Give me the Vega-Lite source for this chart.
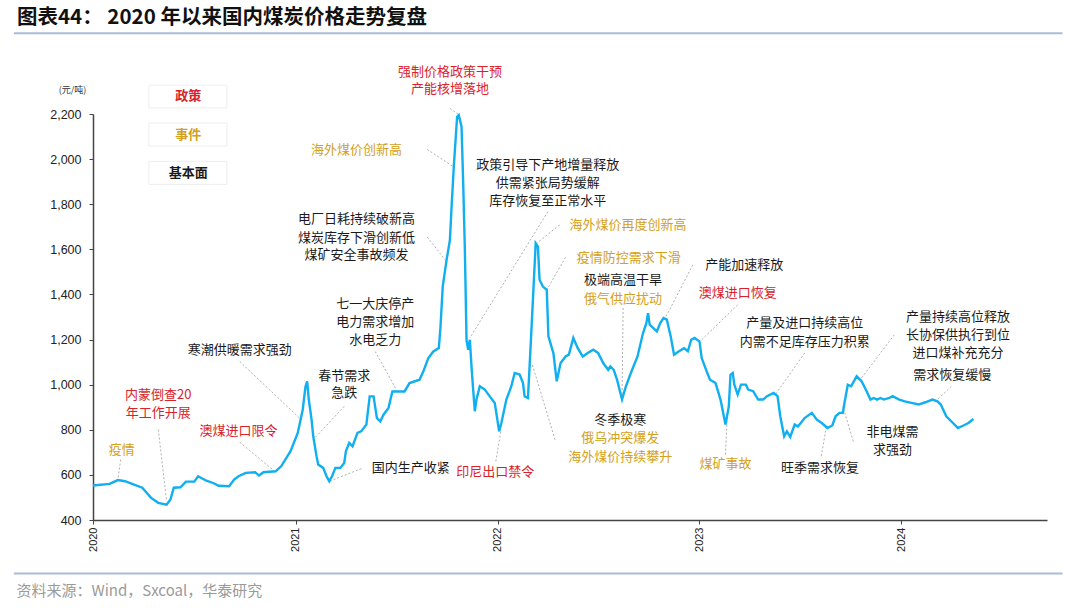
{
  "$schema": "https://vega.github.io/schema/vega-lite/v6.json",
  "autosize": {"type": "none"},
  "width": 954,
  "height": 406,
  "padding": {"left": 93, "top": 114, "right": 33, "bottom": 88},
  "background": "white",
  "title": {
    "text": "图表44：  2020 年以来国内煤炭价格走势复盘",
    "anchor": "start",
    "frame": "group",
    "dx": -76,
    "font": "Noto Sans CJK SC",
    "fontSize": 20.5,
    "fontWeight": "bold",
    "color": "#111111"
  },
  "datasets": {
    "price": [
      {"date": "2020-01-01", "price": 553},
      {"date": "2020-01-31", "price": 560},
      {"date": "2020-02-15", "price": 577},
      {"date": "2020-02-28", "price": 572},
      {"date": "2020-03-14", "price": 558},
      {"date": "2020-03-30", "price": 543},
      {"date": "2020-04-15", "price": 498},
      {"date": "2020-04-28", "price": 476},
      {"date": "2020-05-13", "price": 468},
      {"date": "2020-05-20", "price": 491},
      {"date": "2020-05-26", "price": 543},
      {"date": "2020-06-07", "price": 545},
      {"date": "2020-06-17", "price": 570},
      {"date": "2020-07-02", "price": 570},
      {"date": "2020-07-09", "price": 594},
      {"date": "2020-07-18", "price": 582},
      {"date": "2020-07-24", "price": 574},
      {"date": "2020-08-06", "price": 563},
      {"date": "2020-08-15", "price": 552},
      {"date": "2020-09-03", "price": 550},
      {"date": "2020-09-12", "price": 579},
      {"date": "2020-09-20", "price": 594},
      {"date": "2020-10-03", "price": 609},
      {"date": "2020-10-20", "price": 612},
      {"date": "2020-10-27", "price": 597},
      {"date": "2020-11-04", "price": 612},
      {"date": "2020-11-26", "price": 616},
      {"date": "2020-12-06", "price": 638},
      {"date": "2020-12-23", "price": 705},
      {"date": "2021-01-05", "price": 786},
      {"date": "2021-01-14", "price": 889},
      {"date": "2021-01-19", "price": 992},
      {"date": "2021-01-22", "price": 1015},
      {"date": "2021-01-25", "price": 934},
      {"date": "2021-01-30", "price": 845},
      {"date": "2021-02-02", "price": 771},
      {"date": "2021-02-08", "price": 682},
      {"date": "2021-02-11", "price": 646},
      {"date": "2021-02-20", "price": 631},
      {"date": "2021-02-26", "price": 594},
      {"date": "2021-03-03", "price": 572},
      {"date": "2021-03-08", "price": 594},
      {"date": "2021-03-14", "price": 631},
      {"date": "2021-03-23", "price": 631},
      {"date": "2021-03-30", "price": 653},
      {"date": "2021-04-02", "price": 705},
      {"date": "2021-04-08", "price": 742},
      {"date": "2021-04-14", "price": 727},
      {"date": "2021-04-23", "price": 786},
      {"date": "2021-04-30", "price": 794},
      {"date": "2021-05-09", "price": 823},
      {"date": "2021-05-15", "price": 948},
      {"date": "2021-05-22", "price": 948},
      {"date": "2021-05-28", "price": 852},
      {"date": "2021-06-03", "price": 837},
      {"date": "2021-06-09", "price": 867},
      {"date": "2021-06-18", "price": 897},
      {"date": "2021-06-25", "price": 970},
      {"date": "2021-07-17", "price": 970},
      {"date": "2021-07-26", "price": 1007},
      {"date": "2021-08-13", "price": 1022},
      {"date": "2021-08-20", "price": 1059},
      {"date": "2021-08-29", "price": 1118},
      {"date": "2021-09-07", "price": 1147},
      {"date": "2021-09-17", "price": 1162},
      {"date": "2021-09-20", "price": 1258},
      {"date": "2021-09-24", "price": 1435},
      {"date": "2021-10-01", "price": 1553},
      {"date": "2021-10-07", "price": 1642},
      {"date": "2021-10-10", "price": 1789},
      {"date": "2021-10-14", "price": 1966},
      {"date": "2021-10-20", "price": 2188},
      {"date": "2021-10-23", "price": 2195},
      {"date": "2021-10-28", "price": 2144},
      {"date": "2021-10-31", "price": 1893},
      {"date": "2021-11-03", "price": 1598},
      {"date": "2021-11-06", "price": 1199},
      {"date": "2021-11-09", "price": 1155},
      {"date": "2021-11-12", "price": 1199},
      {"date": "2021-11-15", "price": 1081},
      {"date": "2021-11-18", "price": 978},
      {"date": "2021-11-21", "price": 882},
      {"date": "2021-11-24", "price": 934},
      {"date": "2021-11-30", "price": 993},
      {"date": "2021-12-09", "price": 978},
      {"date": "2021-12-18", "price": 948},
      {"date": "2021-12-27", "price": 919},
      {"date": "2022-01-04", "price": 793},
      {"date": "2022-01-08", "price": 830},
      {"date": "2022-01-17", "price": 934},
      {"date": "2022-01-26", "price": 993},
      {"date": "2022-02-01", "price": 1052},
      {"date": "2022-02-10", "price": 1045},
      {"date": "2022-02-16", "price": 1008},
      {"date": "2022-02-19", "price": 948},
      {"date": "2022-02-25", "price": 941},
      {"date": "2022-02-28", "price": 1081},
      {"date": "2022-03-06", "price": 1376},
      {"date": "2022-03-11", "price": 1627},
      {"date": "2022-03-15", "price": 1612},
      {"date": "2022-03-18", "price": 1465},
      {"date": "2022-03-24", "price": 1435},
      {"date": "2022-03-31", "price": 1420},
      {"date": "2022-04-03", "price": 1214},
      {"date": "2022-04-12", "price": 1140},
      {"date": "2022-04-18", "price": 1015},
      {"date": "2022-04-25", "price": 1096},
      {"date": "2022-05-04", "price": 1125},
      {"date": "2022-05-10", "price": 1133},
      {"date": "2022-05-18", "price": 1207},
      {"date": "2022-05-26", "price": 1162},
      {"date": "2022-06-04", "price": 1125},
      {"date": "2022-06-13", "price": 1140},
      {"date": "2022-06-23", "price": 1155},
      {"date": "2022-07-02", "price": 1140},
      {"date": "2022-07-11", "price": 1096},
      {"date": "2022-07-20", "price": 1066},
      {"date": "2022-07-24", "price": 1081},
      {"date": "2022-07-30", "price": 1066},
      {"date": "2022-08-05", "price": 1022},
      {"date": "2022-08-14", "price": 934},
      {"date": "2022-08-21", "price": 992},
      {"date": "2022-08-30", "price": 1052},
      {"date": "2022-09-11", "price": 1125},
      {"date": "2022-09-21", "price": 1229},
      {"date": "2022-09-27", "price": 1273},
      {"date": "2022-09-30", "price": 1317},
      {"date": "2022-10-03", "price": 1266},
      {"date": "2022-10-16", "price": 1236},
      {"date": "2022-10-22", "price": 1273},
      {"date": "2022-10-28", "price": 1295},
      {"date": "2022-11-03", "price": 1288},
      {"date": "2022-11-10", "price": 1214},
      {"date": "2022-11-16", "price": 1133},
      {"date": "2022-11-25", "price": 1148},
      {"date": "2022-12-04", "price": 1162},
      {"date": "2022-12-11", "price": 1148},
      {"date": "2022-12-17", "price": 1199},
      {"date": "2022-12-23", "price": 1207},
      {"date": "2023-01-01", "price": 1192},
      {"date": "2023-01-05", "price": 1118},
      {"date": "2023-01-14", "price": 1059},
      {"date": "2023-01-20", "price": 1022},
      {"date": "2023-01-30", "price": 1007},
      {"date": "2023-02-08", "price": 934},
      {"date": "2023-02-14", "price": 860},
      {"date": "2023-02-17", "price": 823},
      {"date": "2023-02-23", "price": 904},
      {"date": "2023-02-26", "price": 1044},
      {"date": "2023-03-02", "price": 1052},
      {"date": "2023-03-05", "price": 1000},
      {"date": "2023-03-11", "price": 956},
      {"date": "2023-03-17", "price": 1000},
      {"date": "2023-03-26", "price": 1000},
      {"date": "2023-03-30", "price": 978},
      {"date": "2023-04-08", "price": 971},
      {"date": "2023-04-17", "price": 934},
      {"date": "2023-04-26", "price": 934},
      {"date": "2023-05-03", "price": 949},
      {"date": "2023-05-15", "price": 963},
      {"date": "2023-05-22", "price": 949},
      {"date": "2023-05-27", "price": 860},
      {"date": "2023-06-03", "price": 771},
      {"date": "2023-06-08", "price": 793},
      {"date": "2023-06-14", "price": 768},
      {"date": "2023-06-22", "price": 823},
      {"date": "2023-06-28", "price": 815},
      {"date": "2023-07-10", "price": 852},
      {"date": "2023-07-23", "price": 875},
      {"date": "2023-08-01", "price": 845},
      {"date": "2023-08-10", "price": 830},
      {"date": "2023-08-20", "price": 808},
      {"date": "2023-08-29", "price": 819},
      {"date": "2023-09-04", "price": 860},
      {"date": "2023-09-11", "price": 875},
      {"date": "2023-09-17", "price": 875},
      {"date": "2023-09-20", "price": 919},
      {"date": "2023-09-26", "price": 1000},
      {"date": "2023-10-02", "price": 993},
      {"date": "2023-10-12", "price": 1037},
      {"date": "2023-10-21", "price": 1015},
      {"date": "2023-10-30", "price": 971},
      {"date": "2023-11-06", "price": 934},
      {"date": "2023-11-12", "price": 941},
      {"date": "2023-11-18", "price": 934},
      {"date": "2023-11-24", "price": 941},
      {"date": "2023-11-30", "price": 934},
      {"date": "2023-12-10", "price": 941},
      {"date": "2023-12-16", "price": 949},
      {"date": "2023-12-28", "price": 934},
      {"date": "2024-01-07", "price": 926},
      {"date": "2024-01-19", "price": 919},
      {"date": "2024-02-01", "price": 912},
      {"date": "2024-02-13", "price": 922},
      {"date": "2024-02-26", "price": 934},
      {"date": "2024-03-06", "price": 926},
      {"date": "2024-03-12", "price": 912},
      {"date": "2024-03-22", "price": 860},
      {"date": "2024-04-03", "price": 830},
      {"date": "2024-04-12", "price": 808},
      {"date": "2024-04-22", "price": 819},
      {"date": "2024-05-01", "price": 830},
      {"date": "2024-05-10", "price": 848}
    ],
    "notes": [
      {"date": "2020-02-22", "price": 709, "text": "疫情", "kind": "事件"},
      {"date": "2020-04-28", "price": 953, "text": "内蒙倒查20", "kind": "政策"},
      {"date": "2020-04-28", "price": 875, "text": "年工作开展", "kind": "政策"},
      {"date": "2020-09-20", "price": 796, "text": "澳煤进口限令", "kind": "政策"},
      {"date": "2020-09-22", "price": 1152, "text": "寒潮供暖需求强劲", "kind": "基本面"},
      {"date": "2021-03-30", "price": 1040, "text": "春节需求", "kind": "基本面"},
      {"date": "2021-03-30", "price": 963, "text": "急跌", "kind": "基本面"},
      {"date": "2021-07-28", "price": 631, "text": "国内生产收紧", "kind": "基本面"},
      {"date": "2021-12-28", "price": 612, "text": "印尼出口禁令", "kind": "政策"},
      {"date": "2021-05-25", "price": 1356, "text": "七一大庆停产", "kind": "基本面"},
      {"date": "2021-05-25", "price": 1276, "text": "电力需求增加", "kind": "基本面"},
      {"date": "2021-05-25", "price": 1196, "text": "水电乏力", "kind": "基本面"},
      {"date": "2021-10-07", "price": 2387, "text": "强制价格政策干预", "kind": "政策"},
      {"date": "2021-10-07", "price": 2309, "text": "产能核增落地", "kind": "政策"},
      {"date": "2021-04-21", "price": 2040, "text": "海外煤价创新高", "kind": "事件"},
      {"date": "2021-04-21", "price": 1734, "text": "电厂日耗持续破新高", "kind": "基本面"},
      {"date": "2021-04-21", "price": 1652, "text": "煤炭库存下滑创新低", "kind": "基本面"},
      {"date": "2021-04-21", "price": 1576, "text": "煤矿安全事故频发", "kind": "基本面"},
      {"date": "2022-04-02", "price": 1976, "text": "政策引导下产地增量释放", "kind": "基本面"},
      {"date": "2022-04-02", "price": 1895, "text": "供需紧张局势缓解", "kind": "基本面"},
      {"date": "2022-04-02", "price": 1816, "text": "库存恢复至正常水平", "kind": "基本面"},
      {"date": "2022-08-25", "price": 1708, "text": "海外煤价再度创新高", "kind": "事件"},
      {"date": "2022-08-26", "price": 1562, "text": "疫情防控需求下滑", "kind": "事件"},
      {"date": "2022-08-16", "price": 1462, "text": "极端高温干旱", "kind": "基本面"},
      {"date": "2022-08-16", "price": 1381, "text": "俄气供应扰动", "kind": "事件"},
      {"date": "2023-03-23", "price": 1531, "text": "产能加速释放", "kind": "基本面"},
      {"date": "2023-03-11", "price": 1406, "text": "澳煤进口恢复", "kind": "政策"},
      {"date": "2022-08-11", "price": 843, "text": "冬季极寒", "kind": "基本面"},
      {"date": "2022-08-11", "price": 762, "text": "俄乌冲突爆发", "kind": "事件"},
      {"date": "2022-08-11", "price": 681, "text": "海外煤价持续攀升", "kind": "事件"},
      {"date": "2023-02-17", "price": 649, "text": "煤矿事故", "kind": "事件"},
      {"date": "2023-07-10", "price": 1272, "text": "产量及进口持续高位", "kind": "基本面"},
      {"date": "2023-07-10", "price": 1191, "text": "内需不足库存压力积累", "kind": "基本面"},
      {"date": "2023-08-07", "price": 631, "text": "旺季需求恢复", "kind": "基本面"},
      {"date": "2023-12-16", "price": 792, "text": "非电煤需", "kind": "基本面"},
      {"date": "2023-12-16", "price": 709, "text": "求强劲", "kind": "基本面"},
      {"date": "2024-04-12", "price": 1302, "text": "产量持续高位释放", "kind": "基本面"},
      {"date": "2024-04-12", "price": 1222, "text": "长协保供执行到位", "kind": "基本面"},
      {"date": "2024-04-12", "price": 1142, "text": "进口煤补充充分", "kind": "基本面"},
      {"date": "2024-04-02", "price": 1044, "text": "需求恢复缓慢", "kind": "基本面"}
    ],
    "leaders": [
      {"date": "2020-02-20", "price": 668, "date2": "2020-02-15", "price2": 579},
      {"date": "2020-04-28", "price": 801, "date2": "2020-05-13", "price2": 483},
      {"date": "2020-09-22", "price": 745, "date2": "2020-11-23", "price2": 619},
      {"date": "2020-09-22", "price": 1103, "date2": "2021-01-08", "price2": 852},
      {"date": "2021-03-30", "price": 904, "date2": "2021-02-05", "price2": 764},
      {"date": "2021-04-30", "price": 628, "date2": "2021-03-04", "price2": 572},
      {"date": "2021-12-29", "price": 660, "date2": "2022-01-07", "price2": 793},
      {"date": "2021-05-25", "price": 1147, "date2": "2021-07-04", "price2": 970},
      {"date": "2021-10-07", "price": 2225, "date2": "2021-10-22", "price2": 2199},
      {"date": "2021-08-27", "price": 2043, "date2": "2021-10-13", "price2": 1967},
      {"date": "2021-08-27", "price": 1654, "date2": "2021-10-01", "price2": 1546},
      {"date": "2022-04-02", "price": 1767, "date2": "2021-11-12", "price2": 1207},
      {"date": "2022-04-23", "price": 1708, "date2": "2022-03-13", "price2": 1627},
      {"date": "2022-05-04", "price": 1565, "date2": "2022-03-31", "price2": 1420},
      {"date": "2022-08-16", "price": 1340, "date2": "2022-08-14", "price2": 934},
      {"date": "2022-12-20", "price": 1531, "date2": "2022-10-31", "price2": 1295},
      {"date": "2023-03-11", "price": 1354, "date2": "2023-01-02", "price2": 1192},
      {"date": "2022-04-15", "price": 756, "date2": "2022-03-04", "price2": 1096},
      {"date": "2023-02-17", "price": 690, "date2": "2023-02-20", "price2": 860},
      {"date": "2023-07-10", "price": 1140, "date2": "2023-05-18", "price2": 956},
      {"date": "2023-08-09", "price": 683, "date2": "2023-08-18", "price2": 808},
      {"date": "2023-10-06", "price": 749, "date2": "2023-09-17", "price2": 904},
      {"date": "2023-12-19", "price": 1221, "date2": "2023-10-21", "price2": 1030},
      {"date": "2024-03-31", "price": 992, "date2": "2024-03-06", "price2": 934}
    ],
    "keys": [
      {"kind": "政策", "date": "2020-04-11", "date2": "2020-08-30", "price": 2328, "price2": 2227, "mid_date": "2020-06-21", "mid_price": 2278},
      {"kind": "事件", "date": "2020-04-11", "date2": "2020-08-30", "price": 2160, "price2": 2058, "mid_date": "2020-06-21", "mid_price": 2109},
      {"kind": "基本面", "date": "2020-04-11", "date2": "2020-08-30", "price": 1990, "price2": 1888, "mid_date": "2020-06-21", "mid_price": 1939}
    ],
    "frame": [
      {"date": "2019-08-11", "date2": "2024-10-18", "price": 2558},
      {"date": "2019-08-11", "date2": "2024-10-18", "price": 163}
    ]
  },
  "encoding": {
    "x": {
      "field": "date",
      "type": "temporal",
      "scale": {"type": "utc", "domain": ["2020-01-01", "2024-09-20"], "nice": false},
      "axis": {
        "format": "%Y",
        "tickCount": {"interval": "year", "step": 1},
        "labelAngle": -90,
        "labelFontSize": 11,
        "labelFont": "Liberation Sans",
        "labelColor": "#222222",
        "labelPadding": 3,
        "labelFlush": false,
        "tickSize": 4,
        "tickColor": "#444444",
        "domainColor": "#444444",
        "domainWidth": 1.5,
        "grid": false,
        "title": "资料来源：Wind，Sxcoal，华泰研究",
        "titleAnchor": "start",
        "titleAlign": "left",
        "titleBaseline": "middle",
        "titleX": -77,
        "titleY": 70,
        "titleFont": "Noto Sans CJK SC",
        "titleFontSize": 15,
        "titleFontWeight": "normal",
        "titleColor": "#9a9a9a"
      }
    },
    "y": {
      "field": "price",
      "type": "quantitative",
      "scale": {"domain": [400, 2200], "nice": false, "zero": false},
      "axis": {
        "values": [400, 600, 800, 1000, 1200, 1400, 1600, 1800, 2000, 2200],
        "format": ",.0f",
        "labelFontSize": 12.5,
        "labelFont": "Liberation Sans",
        "labelColor": "#222222",
        "labelPadding": 8,
        "tickSize": 4,
        "tickColor": "#444444",
        "domainColor": "#444444",
        "domainWidth": 1.5,
        "grid": false,
        "title": "(元/吨)",
        "titleAngle": 0,
        "titleAlign": "center",
        "titleBaseline": "middle",
        "titleX": -21,
        "titleY": -25,
        "titleFont": "Noto Sans CJK SC",
        "titleFontSize": 9,
        "titleFontWeight": "normal",
        "titleColor": "#333333"
      }
    }
  },
  "layer": [
    {
      "data": {"name": "frame"},
      "mark": {"type": "rule", "color": "#a9bdd6", "strokeWidth": 2},
      "encoding": {"x2": {"field": "date2"}}
    },
    {
      "data": {"name": "keys"},
      "mark": {"type": "rect", "color": "#c4c4c4", "xOffset": 2.5, "yOffset": 2.5},
      "encoding": {"x2": {"field": "date2"}, "y2": {"field": "price2"}}
    },
    {
      "data": {"name": "keys"},
      "mark": {"type": "rect", "fill": "white", "stroke": "#eeeeee", "strokeWidth": 1},
      "encoding": {"x2": {"field": "date2"}, "y2": {"field": "price2"}}
    },
    {
      "data": {"name": "keys"},
      "mark": {"type": "text", "font": "Noto Sans CJK SC", "fontSize": 13, "fontWeight": "bold", "align": "center", "baseline": "middle"},
      "encoding": {
        "x": {"field": "mid_date", "type": "temporal"},
        "y": {"field": "mid_price", "type": "quantitative"},
        "text": {"field": "kind"},
        "color": {"field": "kind", "type": "nominal", "legend": null,
          "scale": {"domain": ["政策", "事件", "基本面"], "range": ["#d9222a", "#d4a020", "#1a1a1a"]}}
      }
    },
    {
      "data": {"name": "leaders"},
      "mark": {"type": "rule", "color": "#a6a6a6", "strokeWidth": 0.9, "strokeDash": [2, 2]},
      "encoding": {"x2": {"field": "date2"}, "y2": {"field": "price2"}}
    },
    {
      "data": {"name": "price"},
      "mark": {"type": "line", "color": "#10aff0", "strokeWidth": 2.4, "interpolate": "linear"}
    },
    {
      "data": {"name": "notes"},
      "mark": {"type": "text", "font": "Noto Sans CJK SC", "fontSize": 13, "align": "center", "baseline": "middle"},
      "encoding": {
        "text": {"field": "text"},
        "color": {"field": "kind", "type": "nominal", "legend": null}
      }
    }
  ],
  "config": {
    "view": {"stroke": null},
    "font": "Noto Sans CJK SC"
  }
}
